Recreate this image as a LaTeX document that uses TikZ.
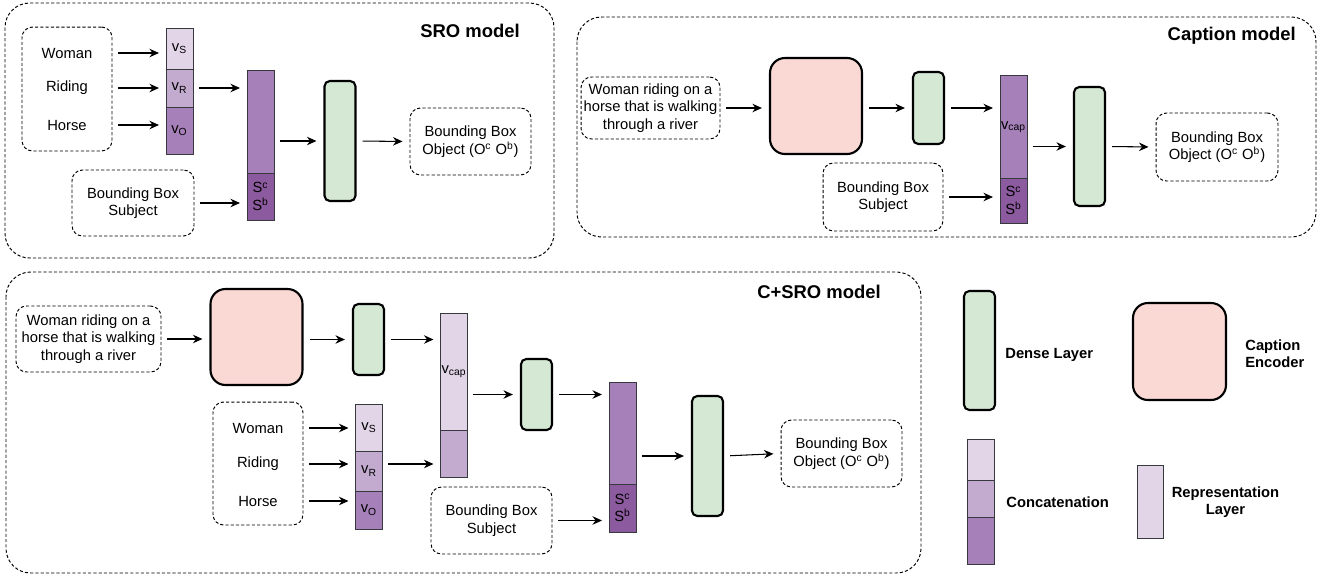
\documentclass[tikz,border=0pt]{standalone}
\usepackage{fontspec}
\setmainfont{Liberation Sans}
\usetikzlibrary{arrows.meta,positioning}
\definecolor{pA}{HTML}{E1D5E7}
\definecolor{pB}{HTML}{C3ABD0}
\definecolor{pC}{HTML}{A680B8}
\definecolor{pD}{HTML}{8C5A9E}
\definecolor{cdense}{HTML}{D5E8D4}
\definecolor{cenc}{HTML}{FAD9D5}
\definecolor{cline}{HTML}{36393D}
\newcommand{\fs}{\fontsize{8.4}{9.9}\selectfont}
\tikzset{
  panel/.style={draw,rounded corners=14pt,line width=0.55pt,
    dash pattern=on 1.8pt off 1.2pt},
  txtbox/.style={draw,rounded corners=6pt,line width=0.55pt,
    dash pattern=on 1.8pt off 1.2pt,align=center,inner sep=0pt,font=\fs},
  word/.style={font=\fs,inner sep=1pt},
  dense/.style={draw,fill=cdense,rounded corners=3pt,line width=1.2pt,
    minimum width=0.62cm,inner sep=0pt},
  enc/.style={draw,fill=cenc,rounded corners=8.5pt,line width=1.2pt,
    minimum width=1.84cm,minimum height=1.92cm,inner sep=0pt},
  cell/.style={draw=cline,line width=0.5pt,minimum width=0.54cm,
    inner sep=0pt,outer sep=0pt,font=\fs,align=center},
  title/.style={font=\fontsize{10.5}{12}\selectfont\bfseries,anchor=east},
  leg/.style={font=\fs\bfseries,align=left,inner sep=0pt},
  arr/.style={-{Stealth[length=1.9mm,width=1.7mm]},line width=0.6pt,
    shorten <=3.4pt,shorten >=4pt}
}
\begin{document}
\begin{tikzpicture}[x=0.02cm,y=-0.02cm]
  \useasboundingbox (0,0) rectangle (1326,579);
  % SRO model
  \draw[panel] (5,3) rectangle (554,258);
  \node[title] (tS) at (526,31) {SRO model};
  \node[txtbox,minimum width=1.8cm,minimum height=2.48cm] (sW) at (67,89) {};
  \node[word] (sWa) at (67,53) {Woman};
  \node[word] (sWb) at (67,88) {Riding};
  \node[word] (sWc) at (67,125) {Horse};
  \node[cell,fill=pA,minimum height=0.82cm] (sS) at (179.5,48.5) {v\textsubscript{S}};
  \node[cell,fill=pB,minimum height=0.76cm,below=0pt of sS] (sR) {v\textsubscript{R}};
  \node[cell,fill=pC,minimum height=0.94cm,below=0pt of sR] (sO) {v\textsubscript{O}};
  \node[cell,fill=pC,minimum height=2.06cm] (sCat) at (260.5,121.5) {};
  \node[cell,fill=pD,minimum height=0.94cm,below=0pt of sCat] (sCs)
    {S\textsuperscript{c}\\S\textsuperscript{b}};
  \node[txtbox,minimum width=2.44cm,minimum height=1.32cm] (sSubj) at (133,203)
    {Bounding Box\\Subject};
  \node[dense,minimum height=2.4cm] (sD) at (340,141) {};
  \node[txtbox,minimum width=2.42cm,minimum height=1.34cm] (sOut) at (470.5,141.5)
    {Bounding Box\\Object (O\textsuperscript{c} O\textsuperscript{b})};
  \draw[arr] (sWa -| sW.east) -- (sWa -| sS.west);
  \draw[arr] (sWb -| sW.east) -- (sWb -| sR.west);
  \draw[arr] (sWc -| sW.east) -- (sWc -| sO.west);
  \draw[arr] (sR.east) -- (sR.east -| sCat.west);
  \draw[arr] (sSubj.east) -- (sSubj.east -| sCs.west);
  \draw[arr] (sCat.east |- sD) -- (sD.west);
  \draw[arr] (sD.east) -- (sOut.west);
  % Caption model
  \draw[panel] (577,17) rectangle (1316,237);
  \node[title] (tC) at (1302,36) {Caption model};
  \node[txtbox,minimum width=2.78cm,minimum height=1.24cm] (cIn) at (650.5,108)
    {Woman riding on a\\horse that is walking\\through a river};
  \node[enc] (cEnc) at (816,106) {};
  \node[dense,minimum height=1.44cm] (cD1) at (928.5,108) {};
  \node[cell,fill=pC,minimum height=2.06cm] (cCap) at (1013.5,126.5)
    {\raisebox{-1.2ex}{v\textsubscript{cap}}};
  \node[cell,fill=pD,minimum height=0.9cm,below=0pt of cCap] (cCs)
    {S\textsuperscript{c}\\S\textsuperscript{b}};
  \node[txtbox,minimum width=2.4cm,minimum height=1.36cm] (cSubj) at (883,197)
    {Bounding Box\\Subject};
  \node[dense,minimum height=2.38cm] (cD2) at (1089.5,146.5) {};
  \node[txtbox,minimum width=2.44cm,minimum height=1.36cm] (cOut) at (1217,147)
    {Bounding Box\\Object (O\textsuperscript{c} O\textsuperscript{b})};
  \draw[arr] (cIn.east) -- (cIn.east -| cEnc.west);
  \draw[arr] (cEnc.east |- cD1) -- (cD1.west);
  \draw[arr] (cD1.east) -- (cD1.east -| cCap.west);
  \draw[arr] (cSubj.east) -- (cSubj.east -| cCs.west);
  \draw[arr] (cCap.east |- cD2) -- (cD2.west);
  \draw[arr] (cD2.east) -- (cOut.west);
  % C+SRO model
  \draw[panel] (6,272) rectangle (921,573);
  \node[title] (tX) at (887,292) {C+SRO model};
  \node[txtbox,minimum width=2.9cm,minimum height=1.32cm] (xIn) at (88.5,339)
    {Woman riding on a\\horse that is walking\\through a river};
  \node[enc] (xEnc) at (256.5,337) {};
  \node[dense,minimum height=1.42cm] (xD1) at (368.5,339.5) {};
  \node[cell,fill=pA,minimum height=2.34cm] (xCap) at (454,371.5) {v\textsubscript{cap}};
  \node[cell,fill=pB,minimum height=0.94cm,below=0pt of xCap] (xCb) {};
  \node[txtbox,minimum width=1.8cm,minimum height=2.46cm] (xW) at (258,463.5) {};
  \node[word] (xWa) at (258,428) {Woman};
  \node[word] (xWb) at (258,464) {Riding};
  \node[word] (xWc) at (258,501) {Horse};
  \node[cell,fill=pA,minimum height=0.94cm] (xS) at (369,427.5) {v\textsubscript{S}};
  \node[cell,fill=pB,minimum height=0.8cm,below=0pt of xS] (xR) {v\textsubscript{R}};
  \node[cell,fill=pC,minimum height=0.76cm,below=0pt of xR] (xO) {v\textsubscript{O}};
  \node[dense,minimum height=1.42cm] (xD2) at (536.5,394.5) {};
  \node[cell,fill=pC,minimum height=2.04cm] (xCat) at (622.5,433) {};
  \node[cell,fill=pD,minimum height=0.96cm,below=0pt of xCat] (xCs)
    {S\textsuperscript{c}\\S\textsuperscript{b}};
  \node[txtbox,minimum width=2.42cm,minimum height=1.34cm] (xSubj) at (491.5,520.5)
    {Bounding Box\\Subject};
  \node[dense,minimum height=2.4cm] (xD3) at (707.5,456) {};
  \node[txtbox,minimum width=2.42cm,minimum height=1.34cm] (xOut) at (841.5,453.5)
    {Bounding Box\\Object (O\textsuperscript{c} O\textsuperscript{b})};
  \draw[arr] (xIn.east) -- (xIn.east -| xEnc.west);
  \draw[arr] (xEnc.east |- xD1) -- (xD1.west);
  \draw[arr] (xD1.east) -- (xD1.east -| xCap.west);
  \draw[arr] (xWa -| xW.east) -- (xWa -| xS.west);
  \draw[arr] (xWb -| xW.east) -- (xWb -| xR.west);
  \draw[arr] (xWc -| xW.east) -- (xWc -| xO.west);
  \draw[arr] (xWb -| xR.east) -- (xWb -| xCb.west);
  \draw[arr] (xCap.east |- xD2) -- (xD2.west);
  \draw[arr] (xD2.east) -- (xD2.east -| xCat.west);
  \draw[arr] (xSubj.east) -- (xSubj.east -| xCs.west);
  \draw[arr] (xCat.east |- xD3) -- (xD3.west);
  \draw[arr] (xD3.east) -- (xOut.west);
  % legend
  \node[dense,minimum height=2.38cm] (lD) at (979.5,350.5) {};
  \node[leg,anchor=west] (lDt) at (1005,355) {Dense Layer};
  \node[enc,minimum width=1.86cm,minimum height=1.94cm] (lE) at (1179.5,351.5) {};
  \node[leg,anchor=west] (lEt) at (1245,354) {Caption\\Encoder};
  \node[cell,fill=pA,minimum height=0.82cm] (lCa) at (981,459.5) {};
  \node[cell,fill=pB,minimum height=0.74cm,below=0pt of lCa] (lCb) {};
  \node[cell,fill=pC,minimum height=0.94cm,below=0pt of lCb] (lCc) {};
  \node[leg,anchor=west] (lCt) at (1006,502) {Concatenation};
  \node[cell,fill=pA,minimum width=0.52cm,minimum height=1.46cm] (lR) at (1150,501.5) {};
  \node[leg,align=center] (lRt) at (1225.5,502) {Representation\\Layer};
\end{tikzpicture}
\end{document}
